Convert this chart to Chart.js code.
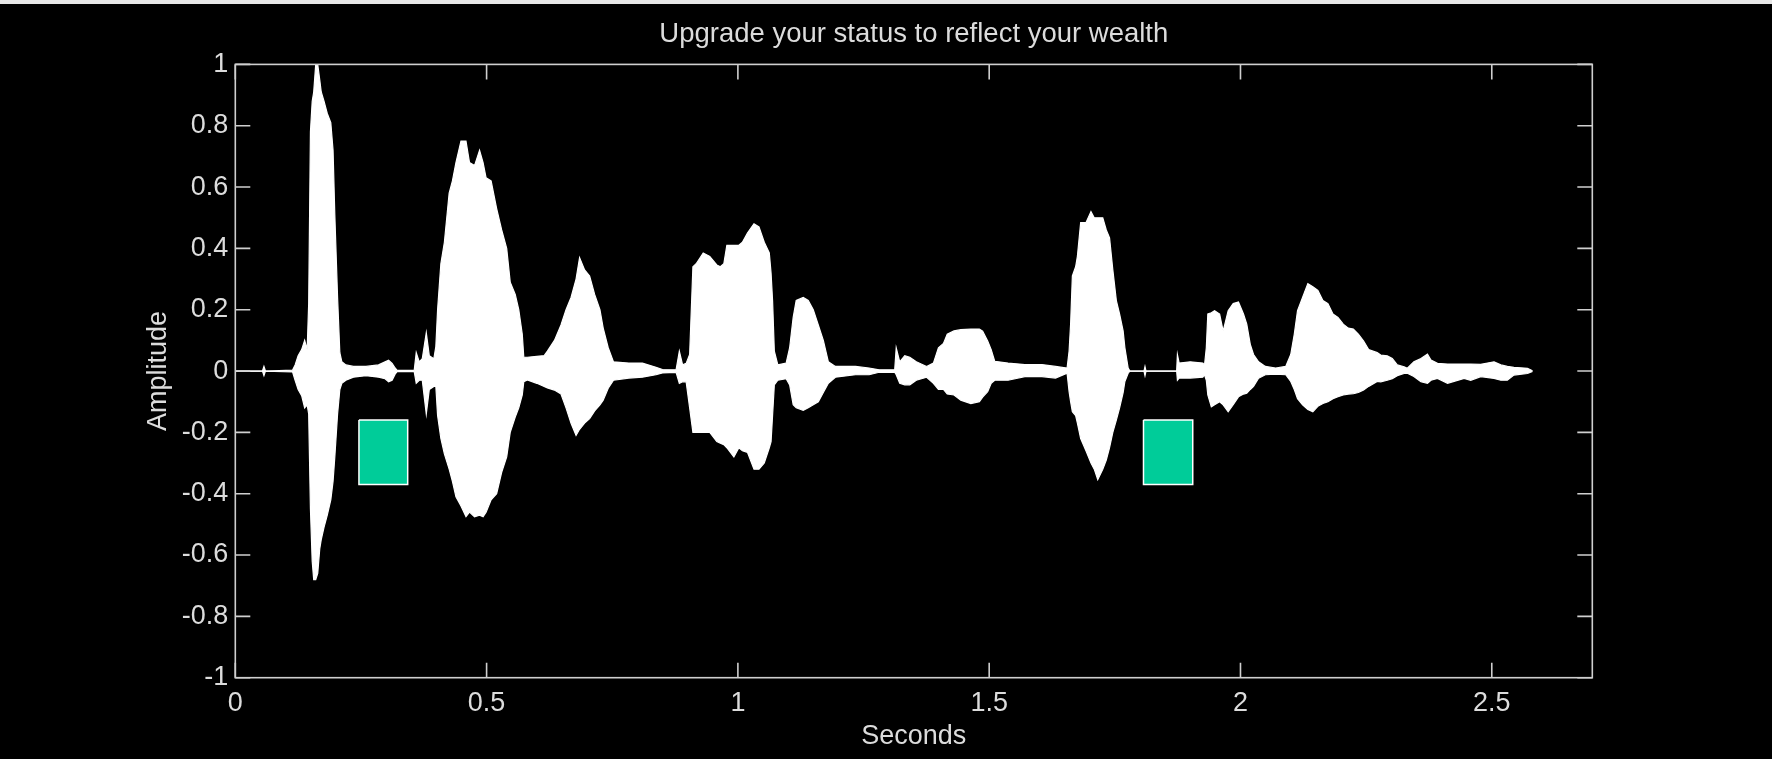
<!DOCTYPE html>
<html>
<head>
<meta charset="utf-8">
<title>Upgrade your status to reflect your wealth</title>
<style>
  html, body { margin: 0; padding: 0; background: #000; overflow: hidden; }
  #wave { display: block; }
</style>
<script src="https://cdn.jsdelivr.net/npm/chart.js@4.4.1/dist/chart.umd.min.js"></script>
</head>
<body>
<canvas id="wave" width="1772" height="759"></canvas>
<script>
// ── Data ────────────────────────────────────────────────────────────────
// envelope of the speech waveform: time (s), max and min amplitude
const timeSec = [
  0, 0.054, 0.057, 0.060, 0.114, 0.119, 0.125, 0.132, 0.138, 0.143,
  0.146, 0.1495, 0.153, 0.156, 0.160, 0.164, 0.168, 0.171, 0.1765, 0.183,
  0.190, 0.1945, 0.198, 0.2035, 0.208, 0.212, 0.220, 0.235, 0.260, 0.285,
  0.298, 0.305, 0.312, 0.318, 0.322, 0.356, 0.360, 0.366, 0.372, 0.380,
  0.386, 0.395, 0.399, 0.4025, 0.409, 0.416, 0.4255, 0.432, 0.439, 0.449,
  0.459, 0.466, 0.476, 0.486, 0.493, 0.499, 0.509, 0.520, 0.530, 0.540,
  0.547, 0.557, 0.564, 0.571, 0.574, 0.581, 0.600, 0.6145, 0.621, 0.635,
  0.648, 0.658, 0.668, 0.678, 0.685, 0.695, 0.705, 0.715, 0.7255, 0.732,
  0.742, 0.7525, 0.783, 0.810, 0.837, 0.850, 0.877, 0.8835, 0.890, 0.897,
  0.904, 0.9105, 0.917, 0.931, 0.944, 0.958, 0.965, 0.972, 0.978, 0.992,
  1.002, 1.009, 1.019, 1.032, 1.042, 1.0525, 1.0625, 1.066, 1.069, 1.0725,
  1.0795, 1.096, 1.103, 1.110, 1.116, 1.130, 1.140, 1.150, 1.160, 1.170,
  1.180, 1.194, 1.234, 1.261, 1.281, 1.312, 1.315, 1.322, 1.332, 1.342,
  1.355, 1.3755, 1.389, 1.399, 1.409, 1.4165, 1.430, 1.4435, 1.4635, 1.4805,
  1.487, 1.497, 1.504, 1.511, 1.5375, 1.571, 1.605, 1.632, 1.655, 1.659,
  1.662, 1.6655, 1.672, 1.6755, 1.682, 1.6925, 1.7025, 1.709, 1.716, 1.726,
  1.733, 1.7395, 1.746, 1.753, 1.7595, 1.7665, 1.770, 1.7765, 1.780, 1.808,
  1.810, 1.812, 1.873, 1.8745, 1.878, 1.900, 1.925, 1.9285, 1.932, 1.935,
  1.942, 1.9485, 1.9585, 1.9655, 1.9755, 1.9855, 1.996, 2.006, 2.0125, 2.0195,
  2.026, 2.036, 2.0495, 2.070, 2.090, 2.100, 2.107, 2.1135, 2.1235, 2.134,
  2.144, 2.154, 2.164, 2.174, 2.184, 2.194, 2.2045, 2.2145, 2.2245, 2.2345,
  2.245, 2.255, 2.272, 2.279, 2.292, 2.302, 2.312, 2.3255, 2.332, 2.345,
  2.359, 2.372, 2.379, 2.392, 2.412, 2.445, 2.458, 2.478, 2.5045, 2.518,
  2.531, 2.544, 2.571, 2.581,
];
const upperEnv = [
  0, 0, 0.015, 0, 0.003, 0.02, 0.05, 0.07, 0.10, 0.07,
  0.22, 0.78, 0.88, 0.91, 1.0, 1.0, 0.95, 0.91, 0.88, 0.84,
  0.81, 0.72, 0.51, 0.24, 0.06, 0.03, 0.02, 0.015, 0.015, 0.02,
  0.03, 0.035, 0.025, 0.01, 0.002, 0.002, 0.06, 0.03, 0.04, 0.125,
  0.05, 0.04, 0.08, 0.20, 0.35, 0.42, 0.58, 0.62, 0.68, 0.75,
  0.75, 0.68, 0.67, 0.72, 0.68, 0.63, 0.62, 0.53, 0.46, 0.40,
  0.29, 0.25, 0.20, 0.12, 0.045, 0.045, 0.048, 0.05, 0.065, 0.10,
  0.15, 0.20, 0.24, 0.30, 0.37, 0.33, 0.31, 0.25, 0.20, 0.14,
  0.076, 0.03, 0.026, 0.026, 0.012, 0.005, 0.004, 0.065, 0.02, 0.025,
  0.054, 0.34, 0.35, 0.385, 0.374, 0.346, 0.34, 0.35, 0.41, 0.41,
  0.41, 0.42, 0.45, 0.48, 0.47, 0.42, 0.385, 0.32, 0.23, 0.065,
  0.02, 0.026, 0.076, 0.175, 0.23, 0.24, 0.23, 0.20, 0.15, 0.10,
  0.03, 0.015, 0.015, 0.01, 0.004, 0.004, 0.076, 0.03, 0.05, 0.045,
  0.03, 0.015, 0.026, 0.076, 0.09, 0.12, 0.131, 0.135, 0.137, 0.137,
  0.13, 0.098, 0.07, 0.032, 0.026, 0.021, 0.021, 0.015, 0.01, 0.065,
  0.153, 0.31, 0.34, 0.374, 0.484, 0.484, 0.52, 0.50, 0.50, 0.50,
  0.46, 0.434, 0.33, 0.23, 0.186, 0.131, 0.076, 0.01, 0, 0,
  0.015, 0, 0, 0.054, 0.026, 0.03, 0.026, 0.02, 0.076, 0.186,
  0.19, 0.197, 0.186, 0.13, 0.197, 0.22, 0.225, 0.186, 0.153, 0.087,
  0.054, 0.03, 0.015, 0.01, 0.015, 0.054, 0.12, 0.197, 0.24, 0.285,
  0.275, 0.263, 0.23, 0.22, 0.186, 0.175, 0.153, 0.14, 0.137, 0.12,
  0.098, 0.07, 0.06, 0.052, 0.05, 0.041, 0.02, 0.014, 0.009, 0.03,
  0.041, 0.055, 0.036, 0.025, 0.023, 0.023, 0.023, 0.022, 0.03, 0.02,
  0.015, 0.012, 0.009, 0.001,
];
const lowerEnv = [
  0, 0, -0.015, 0, -0.003, -0.03, -0.06, -0.08, -0.12, -0.11,
  -0.14, -0.45, -0.62, -0.68, -0.68, -0.66, -0.58, -0.55, -0.51, -0.47,
  -0.42, -0.36, -0.28, -0.14, -0.06, -0.04, -0.03, -0.02, -0.015, -0.02,
  -0.025, -0.035, -0.03, -0.01, -0.002, -0.002, -0.04, -0.03, -0.03, -0.14,
  -0.06, -0.05, -0.05, -0.145, -0.22, -0.27, -0.32, -0.36, -0.41, -0.44,
  -0.475, -0.46, -0.475, -0.47, -0.475, -0.46, -0.42, -0.40, -0.33, -0.28,
  -0.20, -0.15, -0.12, -0.078, -0.035, -0.029, -0.04, -0.05, -0.055, -0.062,
  -0.075, -0.12, -0.17, -0.21, -0.19, -0.17, -0.155, -0.13, -0.11, -0.095,
  -0.056, -0.03, -0.023, -0.02, -0.012, -0.006, -0.004, -0.04, -0.035, -0.035,
  -0.12, -0.20, -0.20, -0.20, -0.20, -0.23, -0.235, -0.24, -0.25, -0.28,
  -0.25, -0.26, -0.265, -0.32, -0.32, -0.30, -0.25, -0.23, -0.145, -0.045,
  -0.03, -0.025, -0.045, -0.11, -0.12, -0.128, -0.12, -0.11, -0.10, -0.07,
  -0.04, -0.02, -0.012, -0.012, -0.004, -0.004, -0.012, -0.04, -0.045, -0.045,
  -0.03, -0.02, -0.04, -0.06, -0.06, -0.075, -0.078, -0.095, -0.106, -0.10,
  -0.085, -0.067, -0.04, -0.03, -0.03, -0.018, -0.018, -0.023, -0.007, -0.067,
  -0.10, -0.133, -0.145, -0.17, -0.22, -0.26, -0.30, -0.32, -0.354, -0.32,
  -0.29, -0.25, -0.20, -0.16, -0.12, -0.07, -0.034, -0.007, 0, 0,
  -0.015, 0, 0, -0.03, -0.023, -0.023, -0.02, -0.012, -0.03, -0.078,
  -0.117, -0.11, -0.10, -0.11, -0.133, -0.11, -0.084, -0.075, -0.072, -0.06,
  -0.05, -0.023, -0.012, -0.01, -0.012, -0.034, -0.06, -0.09, -0.11, -0.125,
  -0.133, -0.115, -0.106, -0.10, -0.09, -0.084, -0.078, -0.075, -0.074, -0.07,
  -0.062, -0.05, -0.034, -0.035, -0.03, -0.025, -0.015, -0.008, -0.007, -0.018,
  -0.035, -0.04, -0.03, -0.024, -0.04, -0.024, -0.03, -0.018, -0.024, -0.03,
  -0.03, -0.013, -0.008, -0.001,
];

// the two green marker patches: [start, end] in seconds, and their amplitude span
const markerX = [[0.246, 0.343], [1.807, 1.905]];
const markerY = [-0.16, -0.37];

const xTicks = [0, 0.5, 1, 1.5, 2, 2.5];
const yTicks = [-1, -0.8, -0.6, -0.4, -0.2, 0, 0.2, 0.4, 0.6, 0.8, 1];

// ── Styling ─────────────────────────────────────────────────────────────
const FONT = "'Liberation Sans', Arial, Helvetica, sans-serif";
const TEXT = "#dcdcdc";
const AXIS = "#cfcfcf";
const PATCH = "#00cc99";
const TICK_LEN = 15;

const fmt = (v) => String(Math.round(v * 10) / 10);

// black page, thin light strip along the top edge, axes box + inward ticks
const frameTicks = {
  id: "frameTicks",
  beforeDraw(chart) {
    const { ctx, width, height } = chart;
    ctx.save();
    ctx.fillStyle = "#000";
    ctx.fillRect(0, 0, width, height);
    ctx.fillStyle = "#e8e8e8";
    ctx.fillRect(0, 0, width, 4);
    ctx.restore();
  },
  afterDatasetsDraw(chart) {
    const { ctx, chartArea: a, scales } = chart;
    ctx.save();
    ctx.strokeStyle = AXIS;
    ctx.lineWidth = 1.6;
    ctx.strokeRect(a.left, a.top, a.right - a.left, a.bottom - a.top);
    ctx.beginPath();
    scales.x.ticks.forEach((t) => {
      const px = scales.x.getPixelForValue(t.value);
      ctx.moveTo(px, a.bottom);
      ctx.lineTo(px, a.bottom - TICK_LEN);
      ctx.moveTo(px, a.top);
      ctx.lineTo(px, a.top + TICK_LEN);
    });
    scales.y.ticks.forEach((t) => {
      const py = scales.y.getPixelForValue(t.value);
      ctx.moveTo(a.left, py);
      ctx.lineTo(a.left + TICK_LEN, py);
      ctx.moveTo(a.right, py);
      ctx.lineTo(a.right - TICK_LEN, py);
    });
    ctx.stroke();
    ctx.restore();
  },
};

const toPoints = (ys) => timeSec.map((t, i) => ({ x: t, y: ys[i] }));

const patchDatasets = markerX.map(([x0, x1]) => ({
  label: "marker",
  data: [
    { x: x0, y: markerY[0] },
    { x: x1, y: markerY[0] },
    { x: x1, y: markerY[1] },
    { x: x0, y: markerY[1] },
    { x: x0, y: markerY[0] },
  ],
  showLine: true,
  fill: "shape",
  backgroundColor: PATCH,
  borderColor: "#ffffff",
  borderWidth: 1.5,
  pointRadius: 0,
  tension: 0,
}));

new Chart(document.getElementById("wave"), {
  type: "scatter",
  data: {
    datasets: [
      {
        label: "upper",
        data: toPoints(upperEnv),
        showLine: true,
        borderColor: "#ffffff",
        borderWidth: 1.2,
        pointRadius: 0,
        tension: 0,
        fill: false,
      },
      {
        label: "lower",
        data: toPoints(lowerEnv),
        showLine: true,
        borderColor: "#ffffff",
        borderWidth: 1.2,
        backgroundColor: "#ffffff",
        pointRadius: 0,
        tension: 0,
        fill: "-1",
      },
      ...patchDatasets,
    ],
  },
  options: {
    responsive: false,
    animation: false,
    events: [],
    layout: { padding: { left: 0, right: 179.7, top: 0, bottom: 0 } },
    plugins: {
      legend: { display: false },
      tooltip: { enabled: false },
      title: {
        display: true,
        fullSize: false,
        text: "Upgrade your status to reflect your wealth",
        color: TEXT,
        font: { family: FONT, size: 27.5, weight: "normal", lineHeight: 1.2 },
        padding: { top: 18, bottom: 13.4 },
      },
    },
    scales: {
      x: {
        type: "linear",
        min: 0,
        max: 2.7,
        afterFit: (s) => { s.height = 81.3; },
        afterBuildTicks: (s) => { s.ticks = xTicks.map((v) => ({ value: v })); },
        grid: { display: false, drawTicks: false },
        border: { display: false },
        ticks: {
          color: TEXT,
          padding: 10,
          autoSkip: false,
          maxRotation: 0,
          font: { family: FONT, size: 27 },
          callback: fmt,
        },
        title: {
          display: true,
          text: "Seconds",
          color: TEXT,
          font: { family: FONT, size: 27, lineHeight: 1.2 },
          padding: { top: 0, bottom: 6 },
        },
      },
      y: {
        type: "linear",
        min: -1,
        max: 1,
        afterFit: (s) => { s.width = 235.3; },
        afterBuildTicks: (s) => { s.ticks = yTicks.map((v) => ({ value: v })); },
        grid: { display: false, drawTicks: false },
        border: { display: false },
        ticks: {
          color: TEXT,
          padding: 7,
          autoSkip: false,
          font: { family: FONT, size: 27 },
          callback: fmt,
        },
        title: {
          display: true,
          text: "Amplitude",
          color: TEXT,
          font: { family: FONT, size: 27, lineHeight: 1.2 },
          padding: { top: 142, bottom: 0 },
        },
      },
    },
  },
  plugins: [frameTicks],
});
</script>
</body>
</html>
